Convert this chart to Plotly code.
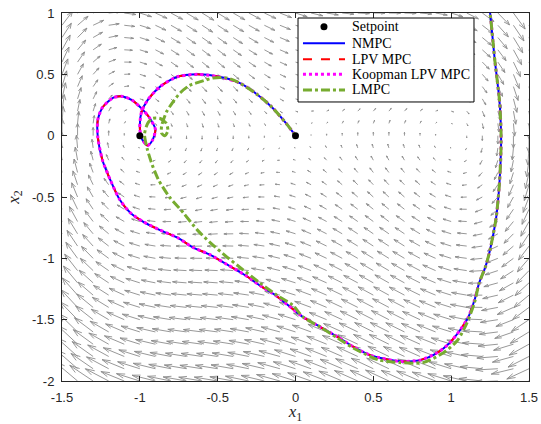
import numpy as np
import plotly.graph_objects as go

# ---- closed-loop state trajectories (x1, x2) ----
# NMPC, LPV MPC and Koopman LPV MPC coincide to plotting accuracy
nmpc_x1 = [1.24, 1.25, 1.28, 1.31, 1.32, 1.32, 1.31, 1.29, 1.25, 1.22, 1.18, 1.15, 1.11,
           1.06, 0.99, 0.91, 0.80, 0.67, 0.54, 0.48, 0.37, 0.27, 0.16, 0.05, -0.04, -0.13,
           -0.23, -0.32, -0.44, -0.55, -0.66, -0.76, -0.87, -0.98, -1.06, -1.13, -1.19,
           -1.24, -1.27, -1.27, -1.24, -1.17, -1.11, -1.05, -0.98, -0.94, -0.90, -0.92,
           -0.95, -0.99, -1.00, -0.99, -0.95, -0.87, -0.76, -0.63, -0.49, -0.36, -0.25,
           -0.15, -0.06, 0.0]
nmpc_x2 = [1.08, 1.00, 0.62, 0.29, 0.05, -0.12, -0.39, -0.66, -0.93, -1.07, -1.20, -1.34,
           -1.48, -1.58, -1.69, -1.77, -1.83, -1.84, -1.81, -1.79, -1.72, -1.64, -1.56,
           -1.48, -1.39, -1.30, -1.22, -1.14, -1.05, -0.97, -0.91, -0.83, -0.77, -0.70,
           -0.63, -0.52, -0.36, -0.20, -0.01, 0.13, 0.23, 0.31, 0.32, 0.29, 0.21, 0.15,
           0.05, -0.04, -0.08, -0.02, 0.07, 0.19, 0.29, 0.40, 0.48, 0.50, 0.48, 0.43,
           0.34, 0.23, 0.10, 0.0]
lpv_x1, lpv_x2 = list(nmpc_x1), list(nmpc_x2)
koop_x1, koop_x2 = list(nmpc_x1), list(nmpc_x2)

lmpc_x1 = [1.24, 1.25, 1.28, 1.31, 1.32, 1.32, 1.31, 1.29, 1.25, 1.22, 1.18, 1.15, 1.10,
           1.04, 0.95, 0.82, 0.67, 0.54, 0.48, 0.37, 0.27, 0.16, 0.05, -0.02, -0.12,
           -0.23, -0.34, -0.44, -0.55, -0.63, -0.72, -0.81, -0.88, -0.92, -0.95, -0.97,
           -0.95, -0.92, -0.87, -0.83, -0.82, -0.84, -0.86, -0.86, -0.83, -0.79, -0.74,
           -0.68, -0.61, -0.53, -0.44, -0.36, -0.25, -0.15, -0.06, 0.0]
lmpc_x2 = [1.08, 1.00, 0.62, 0.29, 0.05, -0.12, -0.39, -0.66, -0.93, -1.07, -1.20, -1.36,
           -1.53, -1.67, -1.77, -1.85, -1.85, -1.83, -1.80, -1.73, -1.65, -1.56, -1.48,
           -1.38, -1.30, -1.20, -1.09, -0.99, -0.87, -0.77, -0.63, -0.50, -0.36, -0.24,
           -0.12, 0.01, 0.10, 0.14, 0.14, 0.10, 0.04, 0.00, 0.02, 0.08, 0.19, 0.27, 0.35,
           0.41, 0.44, 0.47, 0.47, 0.43, 0.34, 0.23, 0.10, 0.0]

setpoint_x1 = [0.0, -1.0]
setpoint_x2 = [0.0, 0.0]

x_tick_vals = [-1.5, -1, -0.5, 0, 0.5, 1, 1.5]
x_tick_text = ["-1.5", "-1", "-0.5", "0", "0.5", "1", "1.5"]
y_tick_vals = [-2, -1.5, -1, -0.5, 0, 0.5, 1]
y_tick_text = ["-2", "-1.5", "-1", "-0.5", "0", "0.5", "1"]

# ---- unforced Duffing dynamics shown as a quiver field ----
DAMPING = 0.4


def duffing(x1, x2):
    return x2, x1 - x1 ** 3 - DAMPING * x2


g1, g2 = np.meshgrid(np.linspace(-1.5, 1.5, 31), np.linspace(-2.0, 1.0, 31))
u, v = duffing(g1, g2)
ARROW_SCALE = 0.075
u = u * ARROW_SCALE
v = v * ARROW_SCALE

# arrow shafts and open heads (quiver style), joined with gaps
HEAD_LEN, HEAD_WID = 0.33, 0.33
qx, qy = [], []
for x0, y0, du, dv in zip(g1.ravel(), g2.ravel(), u.ravel(), v.ravel()):
    xe, ye = x0 + du, y0 + dv
    qx += [x0, xe, None,
           xe - HEAD_LEN * (du + HEAD_WID * dv), xe, xe - HEAD_LEN * (du - HEAD_WID * dv), None]
    qy += [y0, ye, None,
           ye - HEAD_LEN * (dv - HEAD_WID * du), ye, ye - HEAD_LEN * (dv + HEAD_WID * du), None]

# ---- legend entries: label, colour, dash, width ----
legend_labels = ["NMPC", "LPV MPC", "Koopman LPV MPC", "LMPC"]
legend_colors = ["rgb(0,0,255)", "rgb(255,0,0)", "rgb(255,0,255)", "rgb(119,172,48)"]
legend_dashes = ["solid", "dash", "dot", "dashdot"]
legend_widths = [2, 2, 3, 3]

fig = go.Figure()
fig.add_trace(go.Scatter(x=qx, y=qy, mode="lines", line=dict(color="rgb(140,140,140)", width=0.9),
                         showlegend=False, hoverinfo="skip"))
series = [(nmpc_x1, nmpc_x2), (lpv_x1, lpv_x2), (koop_x1, koop_x2), (lmpc_x1, lmpc_x2)]
for (sx, sy), name, col, dash, w in zip(series, legend_labels, legend_colors,
                                         legend_dashes, legend_widths):
    fig.add_trace(go.Scatter(x=sx, y=sy, mode="lines", name=name, showlegend=False,
                             line=dict(color=col, width=w, dash=dash, shape="spline",
                                       smoothing=0.7)))
fig.add_trace(go.Scatter(x=setpoint_x1, y=setpoint_x2, mode="markers", name="Setpoint",
                         showlegend=False, marker=dict(color="black", size=7)))

# ---- legend box (paper coordinates) ----
BOX = dict(x0=0.5054, x1=0.8822, y0=0.7582, y1=0.9864)
ROW_Y = [0.9628, 0.9177, 0.8742, 0.8334, 0.7908]
SAMPLE_X = (0.516, 0.606)
TEXT_X = 0.6167
LEGEND_FONT = dict(family="Liberation Serif, Times New Roman", size=14, color="black")

shapes = [dict(type="rect", xref="paper", yref="paper", **BOX,
               line=dict(color="black", width=1), fillcolor="white", layer="above")]
shapes.append(dict(type="circle", xref="paper", yref="paper", xsizemode="pixel",
                   ysizemode="pixel", xanchor=sum(SAMPLE_X) / 2, yanchor=ROW_Y[0],
                   x0=-3.5, x1=3.5, y0=-3.5, y1=3.5, fillcolor="black",
                   line=dict(color="black", width=0), layer="above"))
annotations = [dict(text="Setpoint", xref="paper", yref="paper", x=TEXT_X, y=ROW_Y[0],
                    xanchor="left", yanchor="middle", showarrow=False, font=LEGEND_FONT)]
for i, (name, col, dash, w) in enumerate(zip(legend_labels, legend_colors,
                                             legend_dashes, legend_widths)):
    yy = ROW_Y[i + 1]
    shapes.append(dict(type="line", xref="paper", yref="paper", x0=SAMPLE_X[0], x1=SAMPLE_X[1],
                       y0=yy, y1=yy, line=dict(color=col, width=w, dash=dash), layer="above"))
    annotations.append(dict(text=name, xref="paper", yref="paper", x=TEXT_X, y=yy,
                            xanchor="left", yanchor="middle", showarrow=False, font=LEGEND_FONT))

axis_common = dict(showline=True, linecolor="rgb(38,38,38)", linewidth=1, mirror="ticks",
                   ticks="inside", ticklen=5, tickcolor="rgb(38,38,38)", showgrid=False,
                   zeroline=False, automargin=False, ticklabelstandoff=4,
                   tickfont=dict(family="Liberation Sans, Arial", size=13,
                                 color="rgb(38,38,38)"))
fig.update_xaxes(range=[-1.5, 1.5], tickvals=x_tick_vals, ticktext=x_tick_text,
                 title=dict(text="<i>x</i><sub>1</sub>", standoff=0,
                            font=dict(family="Liberation Serif, Times New Roman", size=17,
                                      color="rgb(38,38,38)")), **axis_common)
fig.update_yaxes(range=[-2, 1], tickvals=y_tick_vals, ticktext=y_tick_text,
                 title=dict(text="<i>x</i><sub>2</sub>", standoff=8,
                            font=dict(family="Liberation Serif, Times New Roman", size=17,
                                      color="rgb(38,38,38)")), **axis_common)

fig.update_layout(
    width=541, height=424,
    margin=dict(l=62, r=12, t=13, b=43),
    paper_bgcolor="white", plot_bgcolor="white",
    showlegend=False,
    shapes=shapes, annotations=annotations,
)

fig.write_html("out.html")
